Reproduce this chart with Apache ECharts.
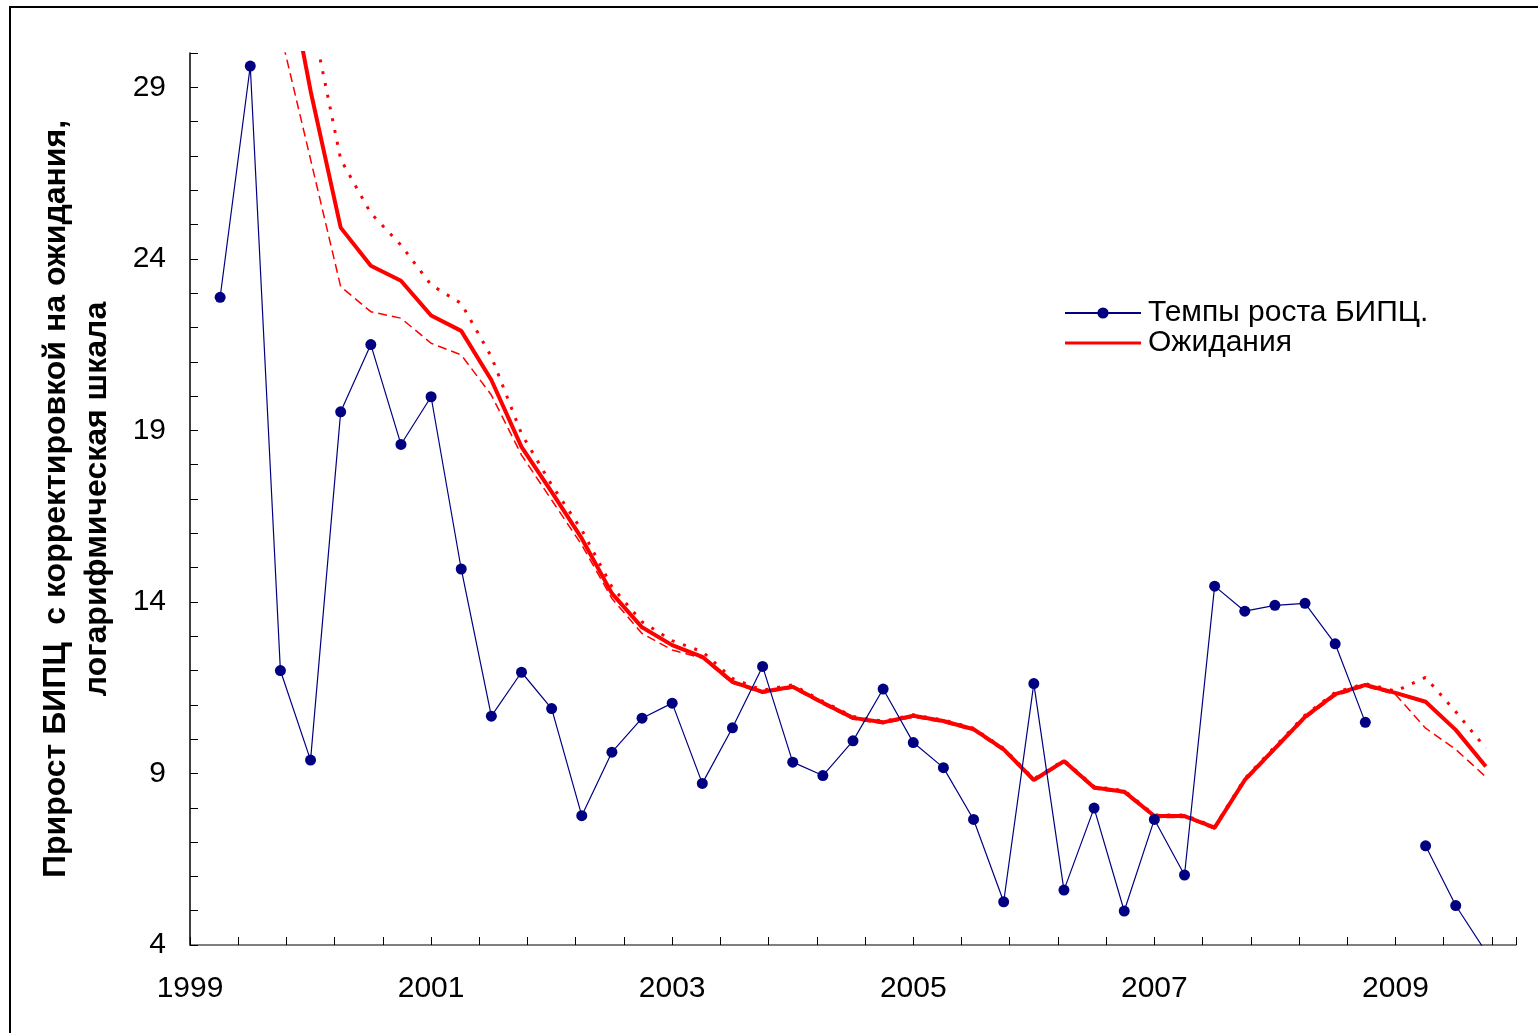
<!DOCTYPE html>
<html lang="ru">
<head>
    <meta charset="UTF-8">
    <title>Прирост БИПЦ и ожидания</title>
    <style>
        html, body { margin: 0; padding: 0; background: #fff; }
        #box { width: 1538px; height: 1033px; }
    </style>
</head>
<body>
<div id="box"></div>
<script src="https://cdn.jsdelivr.net/npm/echarts@6/dist/echarts.min.js"></script>
<script>
    // квартальные даты (доля года)
    var dates = [1999.25, 1999.5, 1999.75, 2000, 2000.25, 2000.5, 2000.75, 2001,
        2001.25, 2001.5, 2001.75, 2002, 2002.25, 2002.5, 2002.75, 2003,
        2003.25, 2003.5, 2003.75, 2004, 2004.25, 2004.5, 2004.75, 2005,
        2005.25, 2005.5, 2005.75, 2006, 2006.25, 2006.5, 2006.75, 2007,
        2007.25, 2007.5, 2007.75, 2008, 2008.25, 2008.5, 2008.75, 2009,
        2009.25, 2009.5, 2009.75];

    // Темпы роста БИПЦ
    var growth = [22.88, 29.62, 12.0, 9.39, 19.54, 21.5, 18.59, 19.98,
        14.96, 10.67, 11.95, 10.89, 7.77, 9.62, 10.61, 11.05,
        8.71, 10.33, 12.12, 9.33, 8.94, 9.95, 11.46, 9.9,
        9.17, 7.66, 5.26, 11.62, 5.6, 7.99, 4.99, 7.66,
        6.04, 14.46, 13.73, 13.9, 13.96, 12.78, 10.49, null,
        6.89, 5.15, 3.8];

    // Ожидания
    var expect = [null, null, 33.5, 28.9, 24.91, 23.8, 23.36, 22.35,
        21.9, 20.47, 18.52, 17.21, 15.85, 14.25, 13.26, 12.74,
        12.4, 11.67, 11.38, 11.53, 11.06, 10.62, 10.49, 10.68,
        10.53, 10.29, 9.7, 8.81, 9.36, 8.59, 8.47, 7.76,
        7.76, 7.42, 8.81, 9.73, 10.65, 11.31, 11.58, 11.35,
        11.09, 10.27, 9.2];

    // верхняя граница (точки)
    var upper = [null, null, 36, 31.2, 26.9, 25.33, 24.4, 23.24,
        22.7, 21.15, 18.9, 17.41, 16.1, 14.44, 13.42, 12.87,
        12.55, 11.77, 11.43, 11.58, 11.1, 10.66, 10.52, 10.71,
        10.56, 10.32, 9.73, 8.84, 9.39, 8.62, 8.5, 7.79,
        7.79, 7.45, 8.85, 9.78, 10.7, 11.36, 11.62, 11.4,
        11.8, 10.8, 9.73];

    // нижняя граница (штрих)
    var lower = [null, null, 30.6, 26.9, 23.19, 22.46, 22.27, 21.54,
        21.2, 20.03, 18.28, 16.97, 15.66, 14.1, 13.08, 12.6,
        12.36, 11.63, 11.34, 11.49, 11.02, 10.58, 10.45, 10.64,
        10.49, 10.25, 9.66, 8.77, 9.32, 8.55, 8.43, 7.72,
        7.72, 7.38, 8.77, 9.68, 10.6, 11.26, 11.54, 11.3,
        10.32, 9.7, 8.9];

    var yLabels = [4, 9, 14, 19, 24, 29];
    var xLabels = [1999, 2001, 2003, 2005, 2007, 2009];

    var pair = function (vals) {
        return dates.map(function (d, i) { return [d, vals[i]]; });
    };

    var font = "'Liberation Sans', Arial, sans-serif";
    // толстая линия без маркера для легенды
    var lineIcon = 'path://M0,0L0.01,0L0.01,0.01Z M0,5h100v4h-100z M0,14L0.01,14L0.01,13.99Z';
    var mychart = echarts.init(document.getElementById('box'));

    var option = {
        animation: false,
        backgroundColor: '#fff',
        textStyle: { fontFamily: font },
        graphic: [{
            type: 'rect',
            shape: { x: 10, y: 7, width: 1600, height: 1100 },
            style: { fill: 'none', stroke: '#000', lineWidth: 2 },
            silent: true
        }],
        grid: { left: 190, right: 22, top: 53, bottom: 88 },
        legend: {
            orient: 'vertical',
            left: 1064,
            top: 298,
            padding: 0,
            itemWidth: 76,
            itemHeight: 14,
            itemGap: 0,
            data: ['Темпы роста БИПЦ.', { name: 'Ожидания', icon: lineIcon }],
            textStyle: { fontFamily: font, fontSize: 30, color: '#000', lineHeight: 29, padding: [0, 0, 0, 2] }
        },
        xAxis: [{
            type: 'value',
            min: 1999,
            max: 2010,
            interval: 1,
            axisLine: { lineStyle: { color: '#555', width: 1.5 } },
            axisTick: { show: false },
            splitLine: { show: false },
            axisLabel: {
                fontFamily: font, fontSize: 30, color: '#000', margin: 29,
                formatter: function (v) { return xLabels.indexOf(v) >= 0 ? String(v) : ''; }
            }
        }, {
            // засечки через каждые 0.4 года
            type: 'value',
            position: 'bottom',
            min: 0,
            max: 27.5,
            interval: 1,
            axisLine: { show: false },
            axisTick: { show: true, inside: true, length: 8, lineStyle: { color: '#000', width: 1 } },
            axisLabel: { show: false },
            splitLine: { show: false }
        }],
        yAxis: {
            type: 'value',
            min: 4,
            max: 30,
            interval: 1,
            name: 'Прирост БИПЦ  с корректировкой на ожидания,\nлогарифмическая шкала',
            nameLocation: 'middle',
            nameRotate: 90,
            nameGap: 72,
            nameTextStyle: { fontFamily: font, fontSize: 32, fontWeight: 'bold', color: '#000', lineHeight: 41, align: 'center' },
            axisLine: { show: true, lineStyle: { color: '#000', width: 1.5 } },
            axisTick: { show: true, inside: true, length: 8, lineStyle: { color: '#000', width: 1 } },
            splitLine: { show: false },
            axisLabel: {
                fontFamily: font, fontSize: 30, color: '#000', margin: 24,
                formatter: function (v) { return yLabels.indexOf(v) >= 0 ? String(v) : ''; }
            }
        },
        series: [{
            name: 'Верхняя граница',
            type: 'line',
            symbol: 'none',
            lineStyle: { color: '#ff0000', width: 3, type: [3, 9] },
            data: pair(upper)
        }, {
            name: 'Нижняя граница',
            type: 'line',
            symbol: 'none',
            lineStyle: { color: '#ff0000', width: 1.5, type: [9, 5] },
            data: pair(lower)
        }, {
            name: 'Ожидания',
            type: 'line',
            symbol: 'none',
            itemStyle: { color: '#ff0000' },
            lineStyle: { color: '#ff0000', width: 4 },
            data: pair(expect)
        }, {
            name: 'Темпы роста БИПЦ.',
            type: 'line',
            symbol: 'circle',
            symbolSize: 11,
            itemStyle: { color: '#000080' },
            lineStyle: { color: '#000080', width: 1.2 },
            data: pair(growth)
        }]
    };
    mychart.setOption(option);
    window.onresize = mychart.resize;
</script>
</body>
</html>
